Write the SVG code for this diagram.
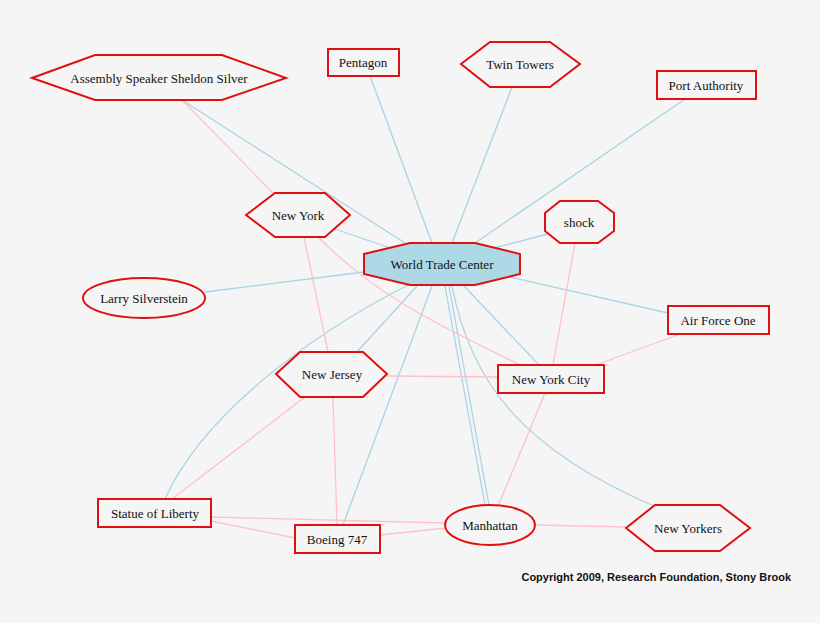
<svg xmlns="http://www.w3.org/2000/svg" width="820" height="623" viewBox="0 0 820 623">
<style>
.n{fill:#f5f5f5;stroke:#e01010;stroke-width:2}
.t{font-family:"Liberation Serif",serif;font-size:13px;text-anchor:middle;fill:#111}
.b{stroke:#a8d4e4;stroke-width:1.3;fill:none}
.p{stroke:#ffc0cb;stroke-width:1.3;fill:none}
</style>
<rect width="820" height="623" fill="#f5f5f5"/>
<g id="edges">
<path class="b" d="M182,100L405,243M370,76L432,243M512,87L452,243M685,99L475,243M335,229L390,248M548,234L494,248M205,292L364,272M668,313L505,276M463,285L540,366M418,285L356,353M410,284C300,340 200,420 165,499M432,286L343,525M445,286L485,505M449,286L489,505M452,286C470,380 520,450 661,509"/>
<path class="p" d="M182,100L273,193M304,237L328,352M318,237C380,300 450,330 520,365M575,243L553,365M680,334L596,365M387,376L498,377M305,397L172,499M333,397L337,525M545,393L498,506M211,517L446,523M211,521L295,538M380,535L446,528M535,525L626,527"/>
</g>
<g id="wtc"><polygon points="364,254 410,243 475,243 520,254 520,274 475,285 410,285 364,274" fill="#add8e6" stroke="#e01010" stroke-width="2"/><text class="t" x="442" y="269">World Trade Center</text></g>
<g id="newyork"><polygon class="n" points="246,215 275,193 325,193 350,215 325,237 275,237"/><text class="t" x="298" y="220">New York</text></g>
<g id="shock"><polygon class="n" points="545,213 560,201 598,201 614,213 614,231 598,243 560,243 545,231"/><text class="t" x="579" y="227">shock</text></g>
<g id="newjersey"><polygon class="n" points="276,374 300,352 363,352 387,374 363,397 300,397"/><text class="t" x="332" y="379">New Jersey</text></g>
<g id="nyc"><rect class="n" x="498" y="365" width="106" height="28"/><text class="t" x="551" y="384">New York City</text></g>
<g id="assembly"><polygon class="n" points="32,78 95,55 222,55 286,78 222,100 95,100"/><text class="t" x="159" y="83">Assembly Speaker Sheldon Silver</text></g>
<g id="pentagon"><rect class="n" x="328" y="49" width="71" height="27"/><text class="t" x="363" y="67">Pentagon</text></g>
<g id="twintowers"><polygon class="n" points="461,64 490,42 550,42 580,64 550,87 490,87"/><text class="t" x="520" y="69">Twin Towers</text></g>
<g id="portauthority"><rect class="n" x="657" y="71" width="99" height="28"/><text class="t" x="706" y="90">Port Authority</text></g>
<g id="larry"><ellipse class="n" cx="144" cy="298" rx="61" ry="20"/><text class="t" x="144" y="303">Larry Silverstein</text></g>
<g id="airforceone"><rect class="n" x="668" y="306" width="101" height="28"/><text class="t" x="718" y="325">Air Force One</text></g>
<g id="statue"><rect class="n" x="98" y="499" width="113" height="28"/><text class="t" x="155" y="518">Statue of Liberty</text></g>
<g id="boeing"><rect class="n" x="295" y="525" width="85" height="28"/><text class="t" x="337" y="544">Boeing 747</text></g>
<g id="manhattan"><ellipse class="n" cx="490" cy="525" rx="45" ry="20"/><text class="t" x="490" y="530">Manhattan</text></g>
<g id="newyorkers"><polygon class="n" points="626,528 655,505 720,505 750,528 720,551 655,551"/><text class="t" x="688" y="533">New Yorkers</text></g>
<text x="791" y="581" font-family="Liberation Sans,sans-serif" font-size="11" font-weight="bold" text-anchor="end" fill="#111">Copyright 2009, Research Foundation, Stony Brook</text>
</svg>
